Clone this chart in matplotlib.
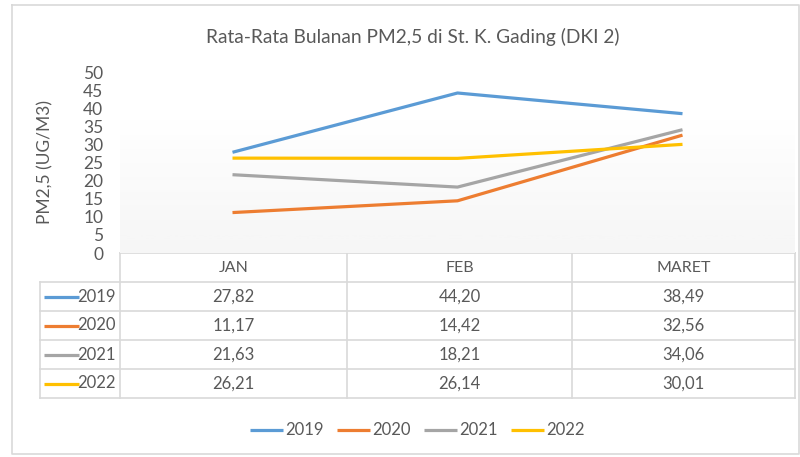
import matplotlib
matplotlib.use("Agg")
import matplotlib.pyplot as plt
import numpy as np

categories = ["JAN", "FEB", "MARET"]
years = ["2019", "2020", "2021", "2022"]
v2019 = [27.82, 44.20, 38.49]
v2020 = [11.17, 14.42, 32.56]
v2021 = [21.63, 18.21, 34.06]
v2022 = [26.21, 26.14, 30.01]
series = [v2019, v2020, v2021, v2022]
colors = ["#5B9BD5", "#ED7D31", "#A5A5A5", "#FFC000"]
yticks = list(range(0, 55, 5))
title = "Rata-Rata Bulanan PM2,5 di St. K. Gading (DKI 2)"
ylabel = "PM2,5 (UG/M3)"

FONT = "Lato"
TXT = "#595959"
GRID = "#D9D9D9"
W, H = 800, 457

plt.rcParams["font.family"] = [FONT, "DejaVu Sans"]
fig = plt.figure(figsize=(W / 100, H / 100), dpi=100)
fig.patch.set_facecolor("white")

def fx(px):
    return px / W

def fy(py):
    return 1 - py / H

# overlay axes in pixel coordinates for frame, table, legend
ov = fig.add_axes([0, 0, 1, 1])
ov.set_xlim(0, W)
ov.set_ylim(H, 0)
ov.axis("off")
ov.set_zorder(0)

# outer frame
ov.plot([12, 799, 799, 12, 12], [5, 5, 454, 454, 5], color=GRID, lw=1.2)

# plot area
x0, x1 = 120, 795
ytop, ybot = 72, 253
ax = fig.add_axes([fx(x0), fy(ybot), fx(x1) - fx(x0), fy(ytop) - fy(ybot)])
ax.set_zorder(2)
ax.patch.set_alpha(0)
# gradient background (white at top -> light gray at bottom)
grad = np.clip(np.linspace(-0.3, 1, 200), 0, 1).reshape(-1, 1)
ax.imshow(grad, extent=[-0.5, 2.5, 0, 50], aspect="auto", cmap="Greys",
          vmin=0, vmax=13, origin="upper", zorder=0)
xs = np.arange(len(categories))
for s, c, yr in zip(series, colors, years):
    ax.plot(xs, s, color=c, lw=2.3, zorder=3, solid_capstyle="butt")
ax.set_xlim(-0.5, len(categories) - 0.5)
ax.set_ylim(0, 50)
ax.set_yticks(yticks)
ax.set_yticklabels([str(t) for t in yticks], fontsize=12.5, color=TXT)
ax.tick_params(axis="y", length=0, pad=12)
ax.set_xticks([])
for sp in ax.spines.values():
    sp.set_visible(False)

fig.text(fx(45), fy(162), ylabel, rotation=90, ha="center", va="center",
         fontsize=12.5, color=TXT)
fig.text(fx(413), fy(37), title, ha="center", va="center", fontsize=13.8, color=TXT)

# data table
col_edges = [x0, 347, 572, x1]
lab_left = 40
row_h = 29
hdr_top = ybot
rows_top = hdr_top + row_h
n_rows = len(years)
tab_bot = rows_top + n_rows * row_h
# horizontal lines
ov.plot([x0, x1], [hdr_top, hdr_top], color=GRID, lw=1.2)
for i in range(n_rows + 1):
    y = rows_top + i * row_h
    ov.plot([lab_left, x1], [y, y], color=GRID, lw=1.2)
# vertical lines
for xe in col_edges:
    ov.plot([xe, xe], [hdr_top, tab_bot], color=GRID, lw=1.2)
ov.plot([lab_left, lab_left], [rows_top, tab_bot], color=GRID, lw=1.2)

for j, cat in enumerate(categories):
    cx = (col_edges[j] + col_edges[j + 1]) / 2
    ov.text(cx, hdr_top + row_h / 2, cat, ha="center", va="center", fontsize=11.5, color=TXT)
for i, (yr, s, c) in enumerate(zip(years, series, colors)):
    cy = rows_top + i * row_h + row_h / 2
    ov.plot([44, 79], [cy, cy], color=c, lw=2.3, solid_capstyle="butt")
    ov.text(116, cy, yr, ha="right", va="center", fontsize=12, color=TXT)
    for j, v in enumerate(s):
        cx = (col_edges[j] + col_edges[j + 1]) / 2
        ov.text(cx, cy, f"{v:.2f}".replace(".", ","), ha="center", va="center",
                fontsize=12, color=TXT)

# legend
leg_x = 250
step = 87
ly = 430
for i, (yr, c) in enumerate(zip(years, colors)):
    lx = leg_x + i * step
    ov.plot([lx, lx + 33], [ly, ly], color=c, lw=2.3, solid_capstyle="butt")
    ov.text(lx + 35, ly, yr, ha="left", va="center", fontsize=12, color=TXT)

fig.savefig("out.png", dpi=100, facecolor="white")
